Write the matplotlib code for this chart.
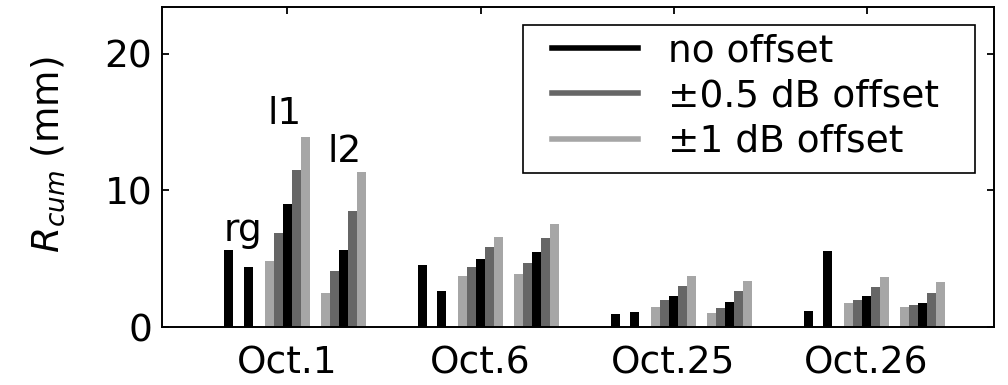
import numpy as np
import matplotlib
matplotlib.use("Agg")
import matplotlib.pyplot as plt
from matplotlib.lines import Line2D
from matplotlib.patches import Rectangle

plt.rcParams['font.family'] = ['DejaVu Sans']
plt.rcParams['mathtext.fontset'] = 'dejavusans'

# data
dates = ['Oct.1', 'Oct.6', 'Oct.25', 'Oct.26']
r_vals = [5.6, 4.5, 0.95, 1.2]
g_vals = [4.4, 2.6, 1.1, 5.55]
# offsets: -1 dB, -0.5 dB, none, +0.5 dB, +1 dB
l1_vals = [[4.8, 6.9, 9.0, 11.5, 13.9],
           [3.7, 4.4, 5.0, 5.85, 6.6],
           [1.5, 1.95, 2.3, 3.0, 3.7],
           [1.75, 2.0, 2.25, 2.9, 3.65]]
l2_vals = [[2.5, 4.1, 5.6, 8.5, 11.3],
           [3.85, 4.7, 5.5, 6.5, 7.5],
           [1.0, 1.4, 1.8, 2.6, 3.4],
           [1.5, 1.6, 1.75, 2.5, 3.3]]
legend_labels = ['no offset', '\u00b10.5 dB offset', '\u00b11 dB offset']

black = '#000000'
dark = '#666666'
light = '#a6a6a6'
offset_colors = [light, dark, black, dark, light]

w = 0.0466
x = np.arange(1, len(dates) + 1)

fig = plt.figure(figsize=(10.08, 3.85), dpi=100)
ax = fig.add_axes([0.1607, 0.1506, 0.8254, 0.8312])

ax.bar(x - 0.303, r_vals, w, color=black)
ax.bar(x - 0.200, g_vals, w, color=black)
for k in range(5):
    ax.bar(x + (k - 2) * w, [v[k] for v in l1_vals], w, color=offset_colors[k])
    ax.bar(x + 0.29 + (k - 2) * w, [v[k] for v in l2_vals], w, color=offset_colors[k])

fs = 27
ax.text(0.772, 6.3, 'rg', fontsize=fs, ha='center', va='baseline')
ax.text(0.985, 14.85, 'l1', fontsize=fs, ha='center', va='baseline')
ax.text(1.295, 12.1, 'l2', fontsize=fs, ha='center', va='baseline')

ax.set_xlim(0.35, 4.66)
ax.set_ylim(0, 23.4)
ax.set_xticks(x)
ax.set_xticklabels(dates)
ax.set_yticks([0, 10, 20])
ax.tick_params(direction='in', length=5, width=1.3, labelsize=fs,
               top=True, right=True, pad=7)
ax.tick_params(axis='x', pad=13)
for s in ax.spines.values():
    s.set_linewidth(1.4)
ax.set_ylabel(r'$R_{cum}$ (mm)', fontsize=fs)
ax.yaxis.set_label_coords(-0.114, 0.54)

# legend box
ax.add_patch(Rectangle((0.434, 0.481), 0.543, 0.463, transform=ax.transAxes,
                       facecolor='white', edgecolor='black', lw=1.2, zorder=4))
handles = [Line2D([], [], color=c, lw=4) for c in [black, dark, light]]
leg = ax.legend(handles, legend_labels, loc='upper left',
                bbox_to_anchor=(0.469, 0.918), borderaxespad=0, borderpad=0,
                fontsize=fs, handlelength=2.3, handletextpad=0.8,
                labelspacing=0.25, frameon=False)
leg.set_zorder(5)

fig.savefig('out.png', dpi=100)
